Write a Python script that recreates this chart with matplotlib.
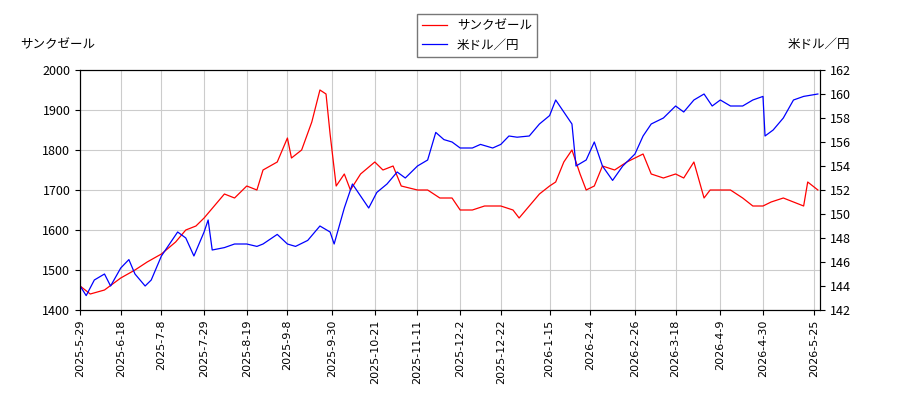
import pandas as pd
import matplotlib.pyplot as plt
import matplotlib.dates as mdates

plt.rcParams['font.family'] = ['Noto Sans CJK JP', 'DejaVu Sans']

# サンクゼール (left axis)
red_dates = ["2025-05-29","2025-06-03","2025-06-10","2025-06-18","2025-06-25","2025-07-01","2025-07-08",
             "2025-07-15","2025-07-20","2025-07-25","2025-07-29","2025-08-03","2025-08-08","2025-08-13",
             "2025-08-19","2025-08-24","2025-08-27","2025-09-03","2025-09-08","2025-09-10","2025-09-15",
             "2025-09-20","2025-09-24","2025-09-27","2025-09-29","2025-10-02","2025-10-06","2025-10-09",
             "2025-10-14","2025-10-21","2025-10-25","2025-10-30","2025-11-03","2025-11-11","2025-11-16",
             "2025-11-22","2025-11-28","2025-12-02","2025-12-08","2025-12-14","2025-12-22","2025-12-28",
             "2025-12-31","2026-01-05","2026-01-10","2026-01-15","2026-01-18","2026-01-22","2026-01-26",
             "2026-01-30","2026-02-02","2026-02-06","2026-02-10","2026-02-16","2026-02-22","2026-02-26",
             "2026-03-02","2026-03-06","2026-03-12","2026-03-18","2026-03-22","2026-03-27","2026-04-01",
             "2026-04-04","2026-04-09","2026-04-14","2026-04-20","2026-04-25","2026-04-30","2026-05-04",
             "2026-05-10","2026-05-15","2026-05-20","2026-05-22","2026-05-27"]
red_vals = [1460,1440,1450,1480,1500,1520,1540,1570,1600,1610,1630,1660,1690,1680,1710,1700,1750,1770,
            1830,1780,1800,1870,1950,1940,1840,1710,1740,1700,1740,1770,1750,1760,1710,1700,1700,1680,
            1680,1650,1650,1660,1660,1650,1630,1660,1690,1710,1720,1770,1800,1740,1700,1710,1760,1750,
            1770,1780,1790,1740,1730,1740,1730,1770,1680,1700,1700,1700,1680,1660,1660,1670,1680,1670,
            1660,1720,1700]

# 米ドル／円 (right axis)
blue_dates = ["2025-05-29","2025-06-01","2025-06-05","2025-06-10","2025-06-13","2025-06-18","2025-06-22",
              "2025-06-25","2025-06-30","2025-07-03","2025-07-08","2025-07-12","2025-07-16","2025-07-20",
              "2025-07-24","2025-07-29","2025-07-31","2025-08-02","2025-08-08","2025-08-13","2025-08-19",
              "2025-08-24","2025-08-27","2025-09-03","2025-09-08","2025-09-12","2025-09-18","2025-09-24",
              "2025-09-29","2025-10-01","2025-10-06","2025-10-10","2025-10-14","2025-10-18","2025-10-22",
              "2025-10-27","2025-11-01","2025-11-05","2025-11-11","2025-11-16","2025-11-20","2025-11-24",
              "2025-11-28","2025-12-02","2025-12-08","2025-12-12","2025-12-18","2025-12-22","2025-12-26",
              "2025-12-30","2026-01-05","2026-01-10","2026-01-15","2026-01-18","2026-01-22","2026-01-26",
              "2026-01-28","2026-02-02","2026-02-06","2026-02-10","2026-02-15","2026-02-20","2026-02-26",
              "2026-03-02","2026-03-06","2026-03-12","2026-03-18","2026-03-22","2026-03-27","2026-04-01",
              "2026-04-05","2026-04-09","2026-04-14","2026-04-20","2026-04-25","2026-04-30","2026-05-01",
              "2026-05-05","2026-05-10","2026-05-15","2026-05-20","2026-05-27"]
blue_vals = [144,143.2,144.5,145,144,145.5,146.2,145,144,144.5,146.5,147.5,148.5,148,146.5,148.5,149.5,
             147,147.2,147.5,147.5,147.3,147.5,148.3,147.5,147.3,147.8,149,148.5,147.5,150.5,152.5,151.5,
             150.5,151.8,152.5,153.5,153,154,154.5,156.8,156.2,156,155.5,155.5,155.8,155.5,155.8,156.5,
             156.4,156.5,157.5,158.2,159.5,158.5,157.5,154,154.5,156,154,152.8,154,155,156.5,157.5,158,
             159,158.5,159.5,160,159,159.5,159,159,159.5,159.8,156.5,157,158,159.5,159.8,160]

tick_labels = ["2025-5-29","2025-6-18","2025-7-8","2025-7-29","2025-8-19","2025-9-8","2025-9-30",
               "2025-10-21","2025-11-11","2025-12-2","2025-12-22","2026-1-15","2026-2-4","2026-2-26",
               "2026-3-18","2026-4-9","2026-4-30","2026-5-25"]

rd = pd.to_datetime(red_dates)
bd = pd.to_datetime(blue_dates)
ticks = pd.to_datetime(tick_labels)

fig = plt.figure(figsize=(9, 4), dpi=100)
ax = fig.add_axes([0.089, 0.225, 0.822, 0.6])
ax2 = ax.twinx()

l1, = ax.plot(rd, red_vals, color='red', lw=0.9, label='サンクゼール')
l2, = ax2.plot(bd, blue_vals, color='blue', lw=0.9, label='米ドル／円')

ax.set_ylim(1400, 2000)
ax2.set_ylim(142, 162)
ax2.set_yticks(range(142, 163, 2))
ax.set_xlim(pd.Timestamp("2025-05-29"), pd.Timestamp("2026-05-28"))
ax.set_xticks(ticks)
ax.set_xticklabels(tick_labels, rotation=90, fontsize=8, family='DejaVu Sans')
ax.tick_params(axis='y', labelsize=9)
ax2.tick_params(axis='y', labelsize=9)
ax.grid(True, color='#cccccc', lw=0.8)

fig.text(0.022, 0.88, 'サンクゼール', fontsize=9)
fig.text(0.945, 0.88, '米ドル／円', fontsize=9, ha='right')
fig.legend(handles=[l1, l2], loc='upper center', bbox_to_anchor=(0.53, 0.98),
           fontsize=9, fancybox=False, edgecolor='#555555')

plt.savefig('out.png')
